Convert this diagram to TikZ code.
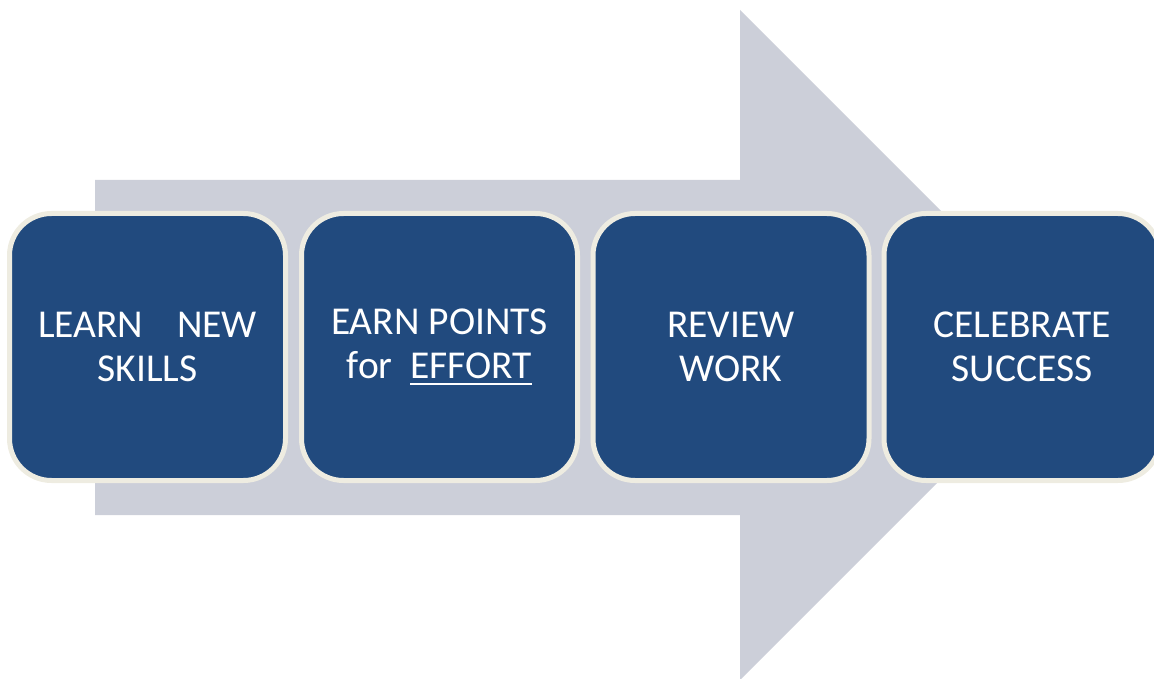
\documentclass[tikz,border=0pt]{standalone}
\usepackage{fontspec}
\setmainfont{Carlito}
\definecolor{arrowgray}{HTML}{CCCFD9}
\definecolor{boxblue}{HTML}{214A7E}
\definecolor{boxrim}{HTML}{EEECE1}
\newcommand\ulword[1]{\setbox0\hbox{#1}\rlap{\rule[-6pt]{\wd0}{2pt}}\box0}
\tikzset{
  stagebox/.style={draw=boxrim, line width=5pt, fill=boxblue, rounded corners=42pt,
    minimum width=276pt, minimum height=267pt, inner sep=0pt,
    text=white, align=center, font=\fontsize{39.5}{44}\selectfont},
}
\begin{document}
\begin{tikzpicture}[x=1pt,y=-1pt]
\useasboundingbox (0,0) rectangle (1154,679);
\clip (0,0) rectangle (1154,679);
% big arrow
\fill[arrowgray] (95,180) -- (740,180) -- (740,10) -- (1075,345) -- (740,680) -- (740,515) -- (95,515) -- cycle;
% boxes
\node[stagebox] (b1) at (147.5,347) {\makebox[219pt]{LEARN\hfill NEW}\\SKILLS};
\node[stagebox] (b2) at (439.5,347) {EARN POINTS\\for\ \ \ulword{EFFORT}};
\node[stagebox] (b3) at (731,347) {REVIEW\\WORK};
\node[stagebox] (b4) at (1022,347) {CELEBRATE\\SUCCESS};
\end{tikzpicture}
\end{document}
